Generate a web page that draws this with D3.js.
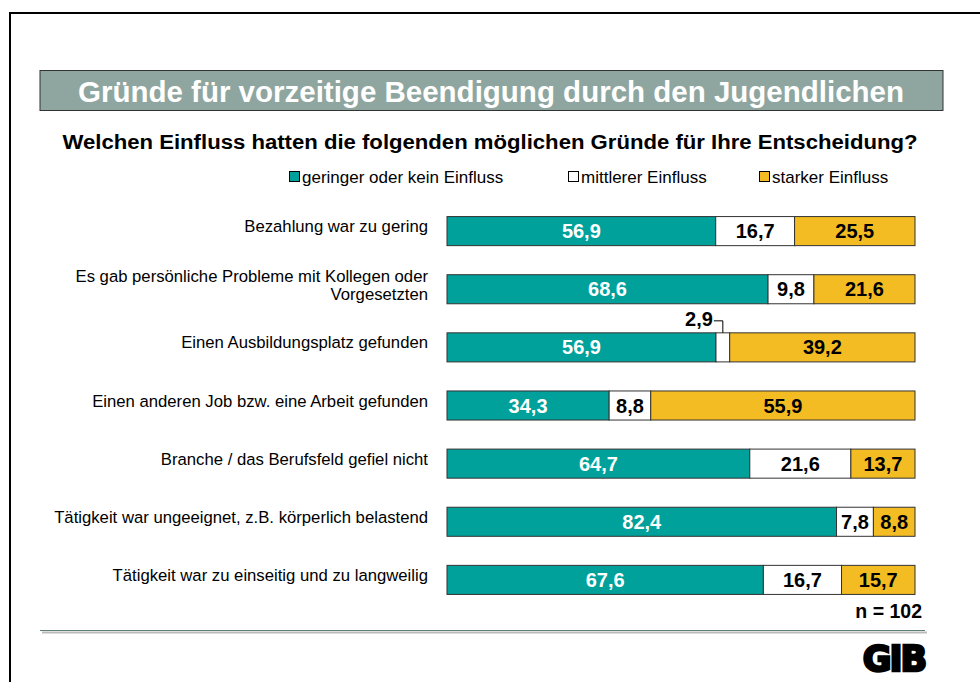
<!DOCTYPE html>
<html><head><meta charset="utf-8">
<script src="https://d3js.org/d3.v7.min.js"></script>
<style>body{margin:0;background:#fff}svg{display:block}</style>
</head><body>
<script>
const categories = [
  ["Bezahlung war zu gering"],
  ["Es gab persönliche Probleme mit Kollegen oder", "Vorgesetzten"],
  ["Einen Ausbildungsplatz gefunden"],
  ["Einen anderen Job bzw. eine Arbeit gefunden"],
  ["Branche / das Berufsfeld gefiel nicht"],
  ["Tätigkeit war ungeeignet, z.B. körperlich belastend"],
  ["Tätigkeit war zu einseitig und zu langweilig"]
];
const gering = [56.9, 68.6, 56.9, 34.3, 64.7, 82.4, 67.6];
const mittel = [16.7, 9.8, 2.9, 8.8, 21.6, 7.8, 16.7];
const stark  = [25.5, 21.6, 39.2, 55.9, 13.7, 8.8, 15.7];
const seriesNames = ["geringer oder kein Einfluss", "mittlerer Einfluss", "starker Einfluss"];
const colors = ["#00A19A", "#FFFFFF", "#F3BC22"];
const textColors = ["#FFFFFF", "#000000", "#000000"];

const W = 980, H = 682;
const svg = d3.select("body").append("svg").attr("width", W).attr("height", H);
const font = "Liberation Sans, Arial, sans-serif";

// page frame
svg.append("path").attr("d", `M10,${H} L10,13 L${W},13`).attr("fill","none").attr("stroke","#000").attr("stroke-width",2);

// header band
svg.append("rect").attr("x",40).attr("y",70.5).attr("width",903).attr("height",40)
  .attr("fill","#8FA6A0").attr("stroke","#333").attr("stroke-width",1);
svg.append("text").attr("x",491).attr("y",102).attr("text-anchor","middle")
  .attr("font-family",font).attr("font-weight","bold").attr("font-size",29.5).attr("fill","#fff")
  .text("Gründe für vorzeitige Beendigung durch den Jugendlichen");

svg.append("text").attr("x",490).attr("y",149).attr("text-anchor","middle")
  .attr("font-family",font).attr("font-weight","bold").attr("font-size",20).attr("fill","#000")
  .attr("textLength",855).attr("lengthAdjust","spacingAndGlyphs")
  .text("Welchen Einfluss hatten die folgenden möglichen Gründe für Ihre Entscheidung?");

// legend
const legendX = [289, 568, 759];
seriesNames.forEach((n,i)=>{
  svg.append("rect").attr("x",legendX[i]+0.5).attr("y",171.5).attr("width",10).attr("height",10)
    .attr("fill",colors[i]).attr("stroke","#000").attr("stroke-width",1);
  svg.append("text").attr("x",legendX[i]+13).attr("y",183).attr("font-family",font)
    .attr("font-size",17).attr("fill","#000").text(n);
});

// scales
const x = d3.scaleLinear().domain([0,100]).range([447,915]);
const y = d3.scaleBand().domain(d3.range(categories.length)).range([187.5, 623.5]).paddingInner(0.5).paddingOuter(0.5);

const data = categories.map((c,i)=>({i, vals:[gering[i], mittel[i], stark[i]]}));

data.forEach(d=>{
  const total = d3.sum(d.vals);
  let cum = 0;
  d.vals.forEach((v,k)=>{
    const x0 = x(cum/total*100), x1 = x((cum+v)/total*100);
    svg.append("rect").attr("x",x0).attr("y",y(d.i)).attr("width",x1-x0).attr("height",y.bandwidth())
      .attr("fill",colors[k]).attr("stroke","#333").attr("stroke-width",1);
    const label = d3.format(".1f")(v).replace(".",",");
    if (v < 5) {
      const cx = (x0+x1)/2;
      svg.append("path").attr("d",`M${cx-9},${y(d.i)-12} L${cx},${y(d.i)-12} L${cx},${y(d.i)}`)
        .attr("fill","none").attr("stroke","#000").attr("stroke-width",1);
      svg.append("text").attr("x",cx-10).attr("y",y(d.i)-7).attr("text-anchor","end")
        .attr("font-family",font).attr("font-weight","bold").attr("font-size",20).attr("fill","#000").text(label);
    } else {
      svg.append("text").attr("x",(x0+x1)/2).attr("y",y(d.i)+y.bandwidth()/2+7).attr("text-anchor","middle")
        .attr("font-family",font).attr("font-weight","bold").attr("font-size",20).attr("fill",textColors[k]).text(label);
    }
    cum += v;
  });
  const lines = categories[d.i];
  const cy = y(d.i)+y.bandwidth()/2;
  const t = svg.append("text").attr("text-anchor","end").attr("font-family",font).attr("font-size",16.7).attr("fill","#000");
  lines.forEach((ln,j)=>{
    const yy = lines.length===1 ? cy+1 : cy-7 + j*18;
    t.append("tspan").attr("x",428).attr("y",yy).text(ln);
  });
});

svg.append("text").attr("x",922).attr("y",618).attr("text-anchor","end").attr("font-family",font)
  .attr("font-weight","bold").attr("font-size",19.5).attr("fill","#000").text("n = 102");

// footer line
svg.append("line").attr("x1",42).attr("x2",927).attr("y1",632.5).attr("y2",632.5).attr("stroke","#BBBBBB").attr("stroke-width",2);
svg.append("line").attr("x1",40).attr("x2",925).attr("y1",630.5).attr("y2",630.5).attr("stroke","#5F7F78").attr("stroke-width",1);

// logo
svg.append("text").attr("x",894).attr("y",671).attr("text-anchor","middle").attr("font-family","DejaVu Sans, sans-serif")
  .attr("font-weight","900").attr("font-size",35).attr("fill","#000").attr("stroke","#000").attr("stroke-width",2.5)
  .attr("letter-spacing",-2).text("GIB");
</script>
</body></html>
